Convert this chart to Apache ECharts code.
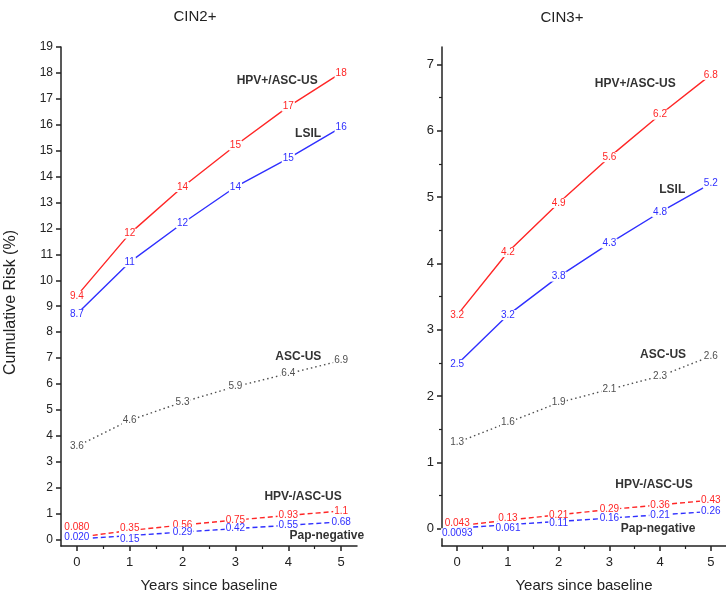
<!DOCTYPE html>
<html>
<head>
<meta charset="utf-8">
<title>Cumulative risk of CIN2+ and CIN3+</title>
<script src="https://cdn.jsdelivr.net/npm/echarts@6/dist/echarts.min.js"></script>
<style>
  html, body { margin: 0; padding: 0; background: #fff; }
  #chart { width: 726px; height: 602px; }
</style>
</head>
<body>
<div id="chart"></div>
<script>
// Years since baseline
const years = [0, 1, 2, 3, 4, 5];

// Cumulative risk (%) of CIN2+
const cin2HpvPos = [9.4, 11.8, 13.6, 15.2, 16.7, 18.0];
const cin2Lsil = [8.7, 10.7, 12.2, 13.6, 14.7, 15.9];
const cin2AscUs = [3.6, 4.6, 5.3, 5.9, 6.4, 6.9];
const cin2HpvNeg = [0.080, 0.35, 0.56, 0.75, 0.93, 1.1];
const cin2PapNeg = [0.020, 0.15, 0.29, 0.42, 0.55, 0.68];

// Cumulative risk (%) of CIN3+
const cin3HpvPos = [3.22, 4.17, 4.91, 5.6, 6.24, 6.84];
const cin3Lsil = [2.48, 3.22, 3.8, 4.3, 4.77, 5.2];
const cin3AscUs = [1.3, 1.6, 1.9, 2.1, 2.3, 2.6];
const cin3HpvNeg = [0.043, 0.13, 0.21, 0.29, 0.36, 0.43];
const cin3PapNeg = [0.0093, 0.061, 0.11, 0.16, 0.21, 0.26];

// Tick values
const xTicks = [0, 1, 2, 3, 4, 5];
const xMinorTicks = [0.5, 1.5, 2.5, 3.5, 4.5];
const cin2YTicks = [0, 1, 2, 3, 4, 5, 6, 7, 8, 9, 10, 11, 12, 13, 14, 15, 16, 17, 18, 19];
const cin3YTicks = [0, 1, 2, 3, 4, 5, 6, 7];
const cin3YMinorTicks = [0.5, 1.5, 2.5, 3.5, 4.5, 5.5, 6.5];

const RED = '#ff2626';
const BLUE = '#2f2fff';
const GREY = '#505050';
const AXIS = '#222';
const FONT = '"Liberation Sans", Arial, sans-serif';

function pairs(values) {
  return years.map((x, i) => [x, values[i]]);
}

// Builds one risk curve with its values written on the points
function curve(name, values, color, lineType, xi, yi, labelShift, tag) {
  const data = pairs(values).map((p, i) => {
    const d = { value: p };
    if (labelShift && labelShift[i]) {
      d.label = { offset: [0, labelShift[i]] };
    }
    return d;
  });
  return {
    name: name,
    type: 'line',
    xAxisIndex: xi,
    yAxisIndex: yi,
    data: data,
    smooth: false,
    symbol: 'circle',
    symbolSize: 1,
    showSymbol: true,
    silent: true,
    animation: false,
    itemStyle: { color: color },
    lineStyle: { color: color, width: 1.4, type: lineType },
    label: {
      show: true,
      position: 'inside',
      formatter: (p) => Number(p.value[1]).toPrecision(2),
      color: color,
      fontFamily: FONT,
      fontSize: 10,
      backgroundColor: '#fff',
      padding: [0, 1]
    },
    markPoint: {
      symbol: 'circle',
      symbolSize: 0,
      silent: true,
      animation: false,
      label: {
        show: true,
        position: 'inside',
        formatter: name,
        color: '#333',
        fontFamily: FONT,
        fontSize: 12,
        fontWeight: 'bold'
      },
      data: [{ coord: tag }]
    }
  };
}

function xAxisPair(gridIndex) {
  return [
    {
      type: 'value', gridIndex: gridIndex, min: -0.3, max: 5.3,
      position: 'bottom',
      name: 'Years since baseline', nameLocation: 'middle', nameGap: 32,
      nameTextStyle: { color: AXIS, fontFamily: FONT, fontSize: 15 },
      axisLine: { show: true, onZero: false, lineStyle: { color: AXIS, width: 1.5 } },
      axisTick: { show: true, inside: false, length: 5, customValues: xTicks,
                  lineStyle: { color: AXIS, width: 1.5 } },
      axisLabel: { show: true, margin: 10, customValues: xTicks, color: AXIS,
                   fontFamily: FONT, fontSize: 13 },
      splitLine: { show: false }
    },
    {
      // minor ticks at half years
      type: 'value', gridIndex: gridIndex, min: -0.3, max: 5.3,
      position: 'bottom', offset: 0,
      axisLine: { show: false, onZero: false },
      axisTick: { show: true, inside: false, length: 3, customValues: xMinorTicks,
                  lineStyle: { color: AXIS, width: 1.2 } },
      axisLabel: { show: false },
      splitLine: { show: false }
    }
  ];
}

const option = {
  backgroundColor: '#fff',
  animation: false,
  title: [
    { text: 'CIN2+', left: 190, top: 4, textAlign: 'center',
      textStyle: { color: AXIS, fontFamily: FONT, fontSize: 15, fontWeight: 'normal' } },
    { text: 'CIN3+', left: 557, top: 5, textAlign: 'center',
      textStyle: { color: AXIS, fontFamily: FONT, fontSize: 15, fontWeight: 'normal' } }
  ],
  grid: [
    { left: 61, top: 47, width: 296, height: 499 },
    { left: 442, top: 47, width: 291, height: 499 }
  ],
  xAxis: [].concat(xAxisPair(0), xAxisPair(1)),
  yAxis: [
    {
      type: 'value', gridIndex: 0, min: -0.25, max: 19, position: 'left',
      name: 'Cumulative Risk (%)', nameLocation: 'middle', nameGap: 42,
      nameTextStyle: { color: AXIS, fontFamily: FONT, fontSize: 16, padding: [0, 0, 0, -12] },
      axisLine: { show: true, onZero: false, lineStyle: { color: AXIS, width: 1.5 } },
      axisTick: { show: true, inside: false, length: 5, customValues: cin2YTicks,
                  lineStyle: { color: AXIS, width: 1.5 } },
      axisLabel: { show: true, margin: 8, customValues: cin2YTicks, color: AXIS,
                   fontFamily: FONT, fontSize: 12 },
      splitLine: { show: false }
    },
    {
      type: 'value', gridIndex: 1, min: -0.26, max: 7.26, position: 'left',
      axisLine: { show: true, onZero: false, lineStyle: { color: AXIS, width: 1.5 } },
      axisTick: { show: true, inside: false, length: 5, customValues: cin3YTicks,
                  lineStyle: { color: AXIS, width: 1.5 } },
      axisLabel: { show: true, margin: 8, customValues: cin3YTicks, color: AXIS,
                   fontFamily: FONT, fontSize: 13 },
      splitLine: { show: false }
    },
    {
      // minor ticks at half percents
      type: 'value', gridIndex: 1, min: -0.26, max: 7.26, position: 'left', offset: 0,
      axisLine: { show: false, onZero: false },
      axisTick: { show: true, inside: false, length: 3, customValues: cin3YMinorTicks,
                  lineStyle: { color: AXIS, width: 1.2 } },
      axisLabel: { show: false },
      splitLine: { show: false }
    }
  ],
  series: [
    // CIN2+
    curve('HPV+/ASC-US', cin2HpvPos, RED, 'solid', 0, 0, null, [3.79, 17.69]),
    curve('LSIL', cin2Lsil, BLUE, 'solid', 0, 0, null, [4.375, 15.65]),
    curve('ASC-US', cin2AscUs, GREY, [1.5, 3], 0, 0, null, [4.19, 7.05]),
    curve('HPV-/ASC-US', cin2HpvNeg, RED, [5, 3], 0, 0, [-10, -2], [4.28, 1.66]),
    curve('Pap-negative', cin2PapNeg, BLUE, [5, 3], 0, 0, [-2, 4], [4.73, 0.15]),
    // CIN3+
    curve('HPV+/ASC-US', cin3HpvPos, RED, 'solid', 2, 1, null, [3.51, 6.70]),
    curve('LSIL', cin3Lsil, BLUE, 'solid', 2, 1, null, [4.24, 5.11]),
    curve('ASC-US', cin3AscUs, GREY, [1.5, 3], 2, 1, null, [4.06, 2.62]),
    curve('HPV-/ASC-US', cin3HpvNeg, RED, [5, 3], 2, 1, [-3, -1.5], [3.88, 0.66]),
    curve('Pap-negative', cin3PapNeg, BLUE, [5, 3], 2, 1, [5, 4, 2], [3.96, 0.0])
  ]
};

const chart = echarts.init(document.getElementById('chart'), null, { renderer: 'canvas' });
chart.setOption(option);
</script>
</body>
</html>
